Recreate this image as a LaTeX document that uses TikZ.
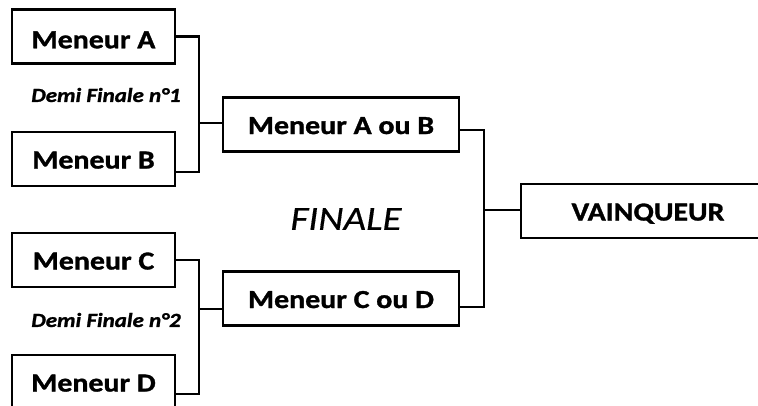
\documentclass[tikz,border=0pt]{standalone}
\usepackage{fontspec}
\setmainfont{Carlito}[FakeStretch=1.15,
  BoldFeatures={FakeBold=1.2},
  BoldItalicFeatures={FakeBold=1.2},
  ItalicFeatures={FakeBold=0.4}]
\usetikzlibrary{calc}
\begin{document}
\begin{tikzpicture}[x=1pt,y=-1pt,
  box/.style={draw, line width=2.8pt, minimum width=163pt, minimum height=54pt,
    inner sep=0pt, font=\bfseries\fontsize{26}{26}\selectfont,
    text height=19pt, text depth=0pt},
  semi/.style={inner sep=0pt, font=\bfseries\itshape\fontsize{20}{20}\selectfont},
  fin/.style={inner sep=0pt, font=\itshape\fontsize{34}{34}\selectfont},
  conn/.style={line width=2.8pt}]
\useasboundingbox (0,0) rectangle (758,405);
\fill[white] (0,0) rectangle (758,405);
\clip (0,0) rectangle (758,405);

% first round
\node[box, text height=23.5pt] (A) at (93.5,36.5) {Meneur A};
\node[box] (B) at (93.5,159) {Meneur B};
\node[box] (C) at (93.5,260) {Meneur C};
\node[box] (D) at (93.5,382) {Meneur D};

% final
\node[box, minimum width=236pt] (AB) at (341,124.5) {Meneur A ou B};
\node[box, minimum width=236pt] (CD) at (341,298.5) {Meneur C ou D};

% winner
\node[box, minimum width=254pt] (V) at (648,211) {VAINQUEUR};

% round titles
\node[semi] (s1) at (106,95) {Demi Finale n°1};
\node[semi] (s2) at (106,320) {Demi Finale n°2};
\node[fin] (fin) at (346,219) {FINALE};

% bracket joints
\coordinate (j1) at (199,123);
\coordinate (j2) at (199,309);
\coordinate (j3) at (484,210);

\draw[conn] (A.east) -| (j1) |- ($(B.east)+(0,13)$);
\draw[conn] (j1) -- (AB.west |- j1);
\draw[conn] (C.east) -| (j2) |- ($(D.east)+(0,12)$);
\draw[conn] (j2) -- (CD.west |- j2);
\draw[conn] ($(AB.east)+(0,5.5)$) -| (j3) |- ($(CD.east)+(0,8.5)$);
\draw[conn] (j3) -- (V.west |- j3);
\end{tikzpicture}
\end{document}
